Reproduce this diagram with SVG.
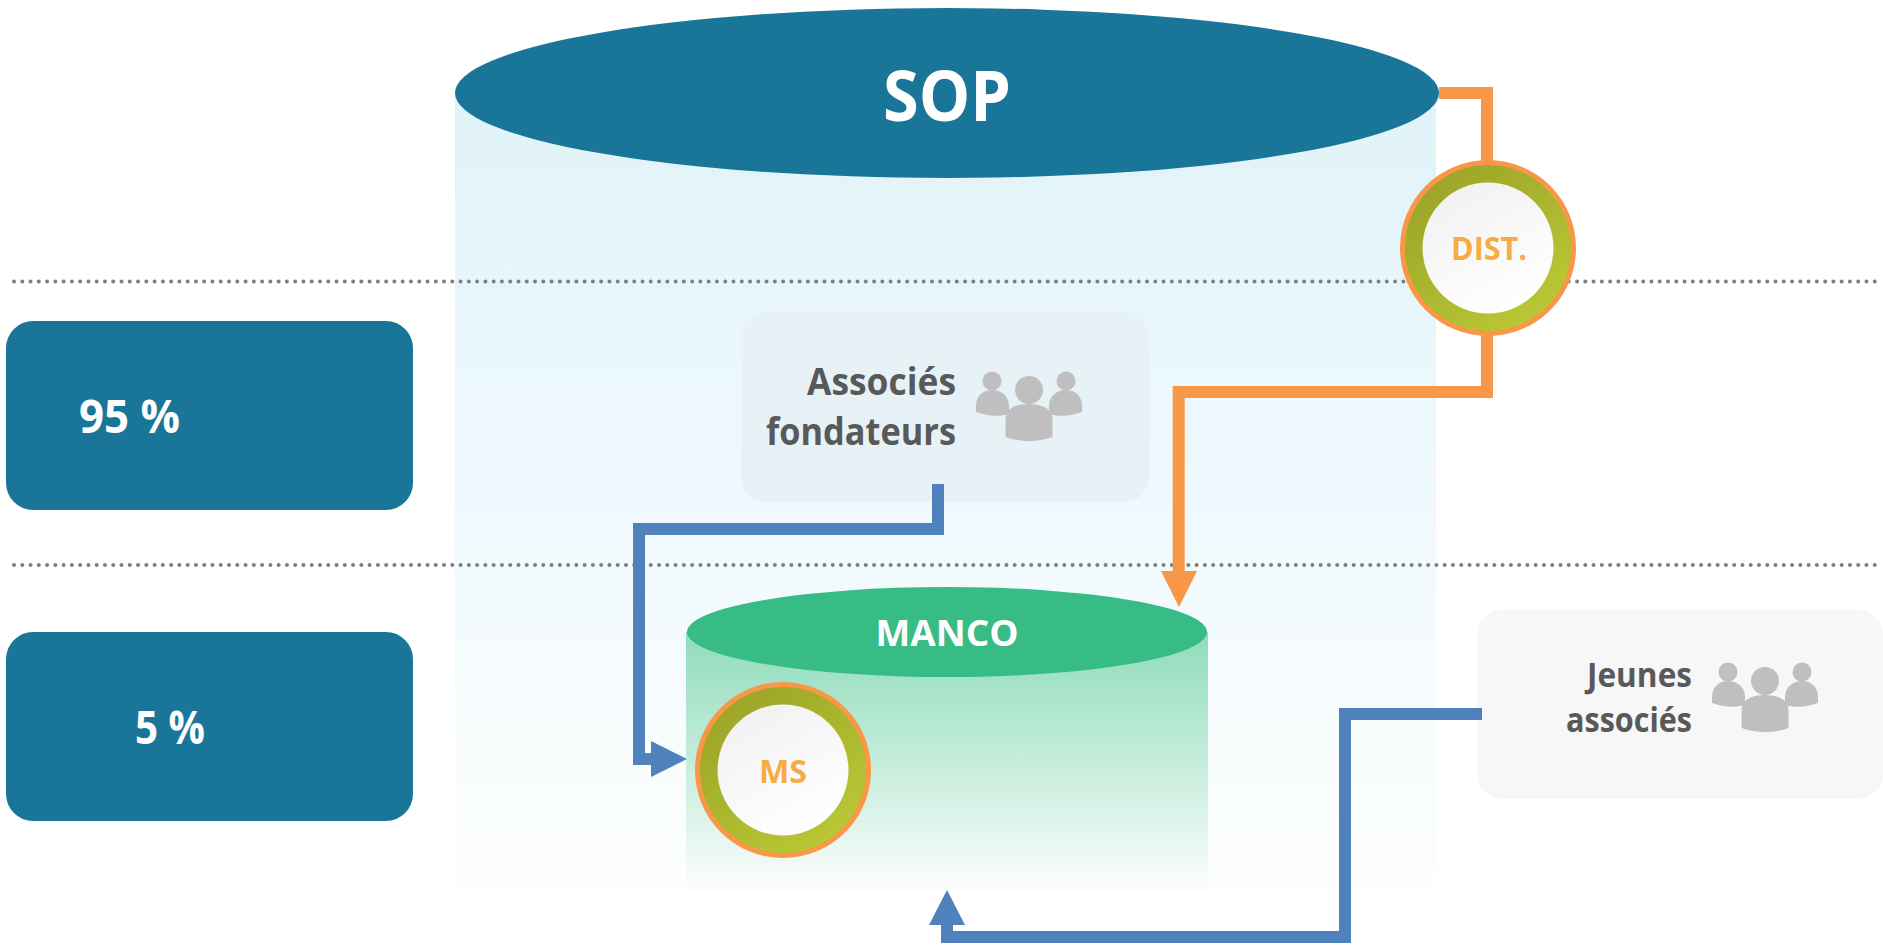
<svg xmlns="http://www.w3.org/2000/svg" width="1883" height="952" viewBox="0 0 1883 952">
<style>
text{font-family:"Open Sans","Liberation Sans",sans-serif;font-weight:700}
.dot{fill:none;stroke:#7f7f7f;stroke-width:4;stroke-linecap:round;stroke-dasharray:0 8.27}
.o{fill:none;stroke:#f99748;stroke-width:12;stroke-linejoin:miter}
.b{fill:none;stroke:#4f81bd;stroke-width:12;stroke-linejoin:miter}
.pct{fill:#fff;font-size:47px}
.who{fill:#595959;font-size:37px;text-anchor:end}
.who2{fill:#595959;font-size:33.500px;text-anchor:end}
.in{fill:#f6ab45;font-size:32px;text-anchor:middle}
.p{fill:#bfbfbf}
.teal{fill:#1a7698}
</style>
<defs>
<linearGradient id="gc" x1="0" y1="0" x2="0" y2="1"><stop offset="0" stop-color="#e0f3f8"/><stop offset=".5" stop-color="#eff9fd"/><stop offset="1" stop-color="#fdfefe"/></linearGradient>
<linearGradient id="gm" x1="0" y1="0" x2="0" y2="1"><stop offset="0" stop-color="#8fdcbb"/><stop offset="1" stop-color="#fbfdfc"/></linearGradient>
<linearGradient id="gr" x1="0.2" y1="0.1" x2="0.8" y2="0.9"><stop offset="0" stop-color="#9da628"/><stop offset="1" stop-color="#b9c735"/></linearGradient>
<linearGradient id="gw" x1="0.25" y1="0.05" x2="0.75" y2="0.95"><stop offset="0" stop-color="#f2f2f2"/><stop offset="1" stop-color="#fff"/></linearGradient>
<g id="people" class="p">
<circle cx="-37" cy="-33" r="9.500"/><path d="M-53 -2V-8C-53 -18 -46 -24 -37 -24C-28 -24 -20 -18 -20 -8V0C-31 3 -42 2 -53 -2Z"/>
<circle cx="37" cy="-33" r="9.500"/><path d="M20 0V-8C20 -18 28 -24 37 -24C46 -24 53 -18 53 -8V-2C42 2 31 3 20 0Z"/>
<circle cx="0" cy="-24" r="14"/><path d="M-23.500 23V6C-23.500 -6 -12 -10 0 -10C12 -10 23.500 -6 23.500 6V23C8 28.500 -8 28.500 -23.500 23Z"/>
</g>
</defs>
<g id="sop-body"><rect x="455" y="93" width="981" height="797" fill="url(#gc)"/></g>
<g id="separators"><path class="dot" d="M14 281.500H1880"/><path class="dot" d="M14 565H1880"/></g>
<g id="sop"><ellipse cx="947" cy="93" rx="492" ry="85" class="teal"/><text x="947" y="121" fill="#fff" font-size="70" text-anchor="middle" textLength="128" lengthAdjust="spacingAndGlyphs">SOP</text></g>
<g id="pct95"><rect x="6" y="321" width="407" height="189" rx="27" class="teal"/><text x="79" y="433" class="pct" textLength="101" lengthAdjust="spacingAndGlyphs">95 %</text></g>
<g id="pct5"><rect x="6" y="632" width="407" height="189" rx="27" class="teal"/><text x="135" y="744" class="pct" textLength="70" lengthAdjust="spacingAndGlyphs">5 %</text></g>
<g id="fondateurs"><rect x="741" y="312" width="408" height="190" rx="25" fill="#e6f2f6"/><text x="956" y="395" class="who" textLength="149" lengthAdjust="spacingAndGlyphs">Associés</text><text x="956" y="445" class="who" textLength="190" lengthAdjust="spacingAndGlyphs">fondateurs</text><use href="#people" x="1029" y="414"/></g>
<g id="jeunes"><rect x="1477" y="610" width="406" height="189" rx="25" fill="#f7f7f7"/><text x="1692" y="687" class="who2" textLength="105" lengthAdjust="spacingAndGlyphs">Jeunes</text><text x="1692" y="732" class="who2" textLength="126" lengthAdjust="spacingAndGlyphs">associés</text><use href="#people" x="1765" y="705"/></g>
<g id="manco"><rect x="686" y="632" width="522" height="258" fill="url(#gm)"/><ellipse cx="947" cy="632" rx="260" ry="45" fill="#37bc85"/><text x="947" y="646" fill="#fff" font-size="36" text-anchor="middle" textLength="143" lengthAdjust="spacingAndGlyphs">MANCO</text></g>
<g id="connectors">
<path class="o" d="M1439 93H1487V392H1178.700V575"/><path d="M1161 571H1197L1179 607Z" fill="#f99748"/>
<path class="b" d="M938 484V529H639V759H655"/><path d="M651 741L687 759L651 777Z" fill="#4f81bd"/>
<path class="b" d="M1482 714H1345V937H947V920"/><path d="M929 925L947 890L965 925Z" fill="#4f81bd"/>
</g>
<g id="dist"><circle cx="1488" cy="248" r="88" fill="#f99748"/><circle cx="1488" cy="248" r="83" fill="url(#gr)"/><circle cx="1488" cy="248" r="65.500" fill="url(#gw)"/><text x="1489" y="260" class="in" textLength="76" lengthAdjust="spacingAndGlyphs">DIST.</text></g>
<g id="ms"><circle cx="783" cy="770" r="88" fill="#f99748"/><circle cx="783" cy="770" r="83" fill="url(#gr)"/><circle cx="783" cy="770" r="65.500" fill="url(#gw)"/><text x="783" y="783" class="in" textLength="48" lengthAdjust="spacingAndGlyphs">MS</text></g>
</svg>
